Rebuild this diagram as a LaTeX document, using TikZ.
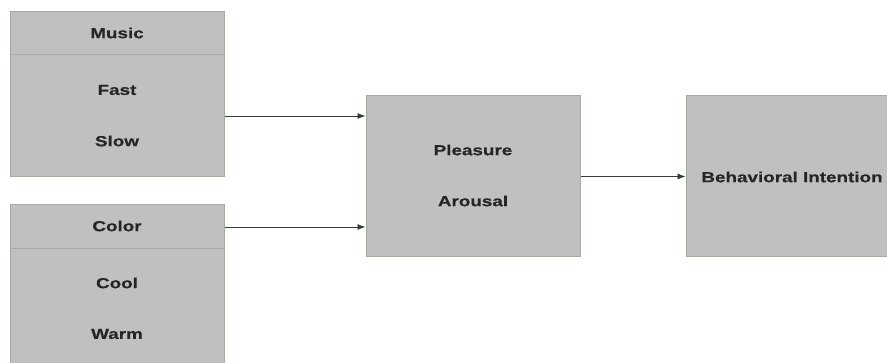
\documentclass[tikz,border=0pt]{standalone}
\usepackage{fontspec}
\newfontfamily\labfont[FakeStretch=1.3,FakeBold=0.6]{Liberation Sans}
\usetikzlibrary{arrows.meta}
\definecolor{boxfill}{HTML}{C0C0C0}
\definecolor{boxline}{HTML}{A2AAA2}
\definecolor{arrline}{HTML}{3A3A3A}
\tikzset{
  panel/.style={draw=boxline, fill=boxfill, line width=1pt, minimum width=214pt, inner sep=0pt, anchor=center},
  lbl/.style={font=\labfont\bfseries\fontsize{14.5}{16}\selectfont, text=black!85, inner sep=0pt},
  arr/.style={draw=arrline, line width=0.7pt, -{Latex[length=8pt,width=6pt]}}
}
\begin{document}
\begin{tikzpicture}[x=1pt,y=-1pt]
\useasboundingbox (0,0) rectangle (887,363);
\clip (0,0) rectangle (887,363);
% Music block
\node[panel, minimum height=43pt] (musichead) at (117,33.5) {};
\node[panel, minimum height=122pt] (musicbody) at (117,116) {};
\node[lbl] (music) at (117,33) {Music};
\node[lbl] (fast) at (117,90) {Fast};
\node[lbl] (slow) at (117,141) {Slow};
% Color block
\node[panel, minimum height=44pt] (colorhead) at (117,227) {};
\node[panel, minimum height=122pt] (colorbody) at (117,310) {};
\node[lbl] (color) at (117,226) {Color};
\node[lbl] (cool) at (117,283) {Cool};
\node[lbl] (warm) at (117,334) {Warm};
% Middle block
\node[panel, minimum height=161pt] (mid) at (473,176.5) {};
\node[lbl] (pleasure) at (473,150) {Pleasure};
\node[lbl] (arousal) at (473,201) {Arousal};
% Right block
\node[panel, minimum height=161pt] (right) at (793,176.5) {};
\node[lbl] (behav) at (792,177) {Behavioral Intention};
% Connectors
\draw[arr] (musicbody.east) -- (musicbody.east -| mid.west);
\draw[arr] (colorhead.east) -- (colorhead.east -| mid.west);
\draw[arr] (mid.east) -- (right.west);
\end{tikzpicture}
\end{document}
